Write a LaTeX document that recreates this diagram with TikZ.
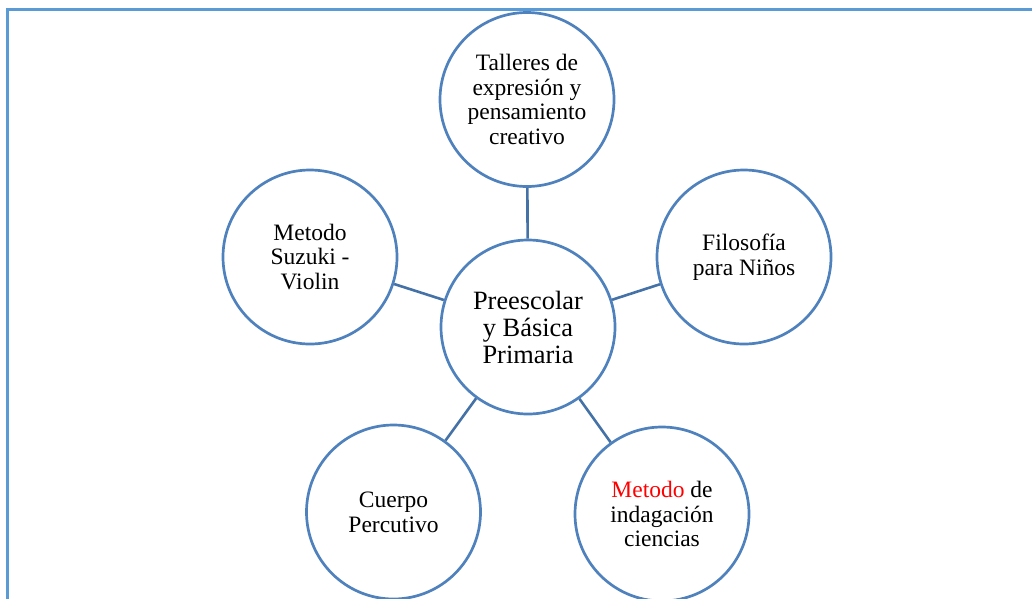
\documentclass[tikz,border=0pt]{standalone}
\usepackage{fontspec}
\setmainfont{Liberation Serif}
\definecolor{circblue}{RGB}{79,129,189}
\definecolor{linkblue}{RGB}{68,114,166}
\definecolor{frameblue}{RGB}{91,155,213}
\tikzset{
  bubble/.style={circle, draw=circblue, line width=2.7pt, minimum size=174pt, inner sep=0pt, align=center, font=\fontsize{23.5}{24.8}\selectfont},
  hub/.style={bubble, font=\fontsize{26.4}{27}\selectfont},
  link/.style={draw=linkblue, line width=2.6pt}
}
\begin{document}
\begin{tikzpicture}[x=1pt,y=-1pt]
\useasboundingbox (0,0) rectangle (1032,598);
\begin{scope}
\clip (0,0) rectangle (1032,598);
\draw[frameblue, line width=2.2pt] (7.5,640) -- (7.5,9.5) -- (1060,9.5);
\node[hub] (c) at (528,327) {Preescolar\\y Básica\\Primaria};
\node[bubble] (t) at (527,99.5) {Talleres de\\expresión y\\pensamiento\\creativo};
\node[bubble] (l) at (310,257) {Metodo\\Suzuki -\\Violin};
\node[bubble] (r) at (744,257) {Filosofía\\para Niños};
\node[bubble] (bl) at (393.5,512) {Cuerpo\\Percutivo};
\node[bubble] (br) at (662,514) {\textcolor{red}{Metodo} de\\indagación\\ciencias};
\draw[link] (t) -- (c);
\draw[link] (l) -- (c);
\draw[link] (r) -- (c);
\draw[link] (bl) -- (c);
\draw[link] (br) -- (c);
\end{scope}
\end{tikzpicture}
\end{document}
